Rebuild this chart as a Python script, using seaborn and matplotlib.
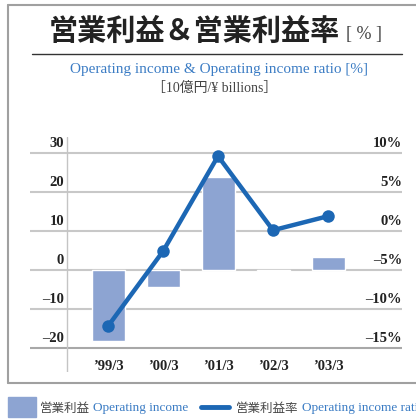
import numpy as np
import matplotlib
matplotlib.use("Agg")
import matplotlib.pyplot as plt
from matplotlib.lines import Line2D
from matplotlib.patches import Rectangle
import seaborn as sns

# data
periods = ["’99/3", "’00/3", "’01/3", "’02/3", "’03/3"]
income = [-18.2, -4.4, 23.8, -0.2, 3.3]          # 10億円 / ¥ billions
ratio = [-12.2, -2.6, 9.6, 0.1, 1.9]             # %
left_ticks = [30, 20, 10, 0, -10, -20]
left_labels = ["30", "20", "10", "0", "–10", "–20"]
right_labels = ["10%", "5%", "0%", "–5%", "–10%", "–15%"]

BAR = "#8da4d2"
LINE = "#1c67b4"
BLUE_TXT = "#3b7cc4"
GRID = "#c8c8c8"

sns.set_theme(style="white")
plt.rcParams["font.family"] = ["Liberation Serif", "Noto Sans CJK JP"]

W, H = 416, 419
fig = plt.figure(figsize=(W / 100, H / 100), dpi=100)


def fx(px):
    return px / W


def fy(py):
    return 1 - py / H


# main axes spans gridline area
ax = fig.add_axes([fx(30), fy(372), fx(402) - fx(30), fy(137) - fy(372)])
sns.barplot(x=periods, y=income, ax=ax, color=BAR, saturation=1, width=0.6)

y0 = 270.0
scale = 3.9
ylim = ((y0 - 372) / scale, (y0 - 137) / scale)
xlim = ((30 - 108) / 55, (402 - 108) / 55)
ax.set_ylim(*ylim)
ax.set_xlim(*xlim)

for t in left_ticks:
    ax.axhline(t, color="#a8a8a8" if t == -20 else GRID, lw=1.5, zorder=0)
ax.axvline((67 - 108) / 55, color="#c4c4c4", lw=1, zorder=0)

ax2 = ax.twinx()
sns.lineplot(x=np.arange(len(ratio)), y=ratio, ax=ax2, color=LINE, lw=3.2,
             marker="o", markersize=9, markeredgewidth=0, zorder=5)
ax2.set_ylim(ylim[0] / 2 - 5, ylim[1] / 2 - 5)
ax2.set_xlim(*xlim)

for a in (ax, ax2):
    a.set_xticks([])
    a.set_yticks([])
    a.set_xlabel("")
    a.set_ylabel("")
    for s in a.spines.values():
        s.set_visible(False)

for t, lab, rlab in zip(left_ticks, left_labels, right_labels):
    ax.text((64 - 108) / 55, t + 0.8, lab, ha="right", va="bottom",
            fontsize=10.5, fontweight="bold", color="#222")
    ax.text(xlim[1], t + 0.8, rlab, ha="right", va="bottom",
            fontsize=10.5, fontweight="bold", color="#222")

xlab_y = (y0 - 366) / scale
for i, p in enumerate(periods):
    ax.text(i, xlab_y, p, ha="center", va="center", fontsize=10.5,
            fontweight="bold", color="#222")

# titles
fig.text(fx(194), fy(31), "営業利益＆営業利益率", ha="center", va="center",
         fontsize=21, fontweight="bold", color="#222",
         family=["Noto Sans CJK JP"])
fig.text(fx(346), fy(35), "[ % ]", ha="left", va="center", fontsize=13,
         color="#444")
fig.add_artist(Line2D([fx(32), fx(402)], [fy(54), fy(54)], color="#333", lw=1))
fig.text(fx(219), fy(70), "Operating income & Operating income ratio [%]",
         ha="center", va="center", fontsize=11, color=BLUE_TXT)
fig.text(fx(215), fy(88), "［10億円/¥ billions］", ha="center", va="center",
         fontsize=10, color="#444",
         family=["Liberation Serif", "Noto Sans CJK JP"])

# outer frame
frame_c = "#a0a0a0"
fig.add_artist(Line2D([fx(8), fx(8)], [fy(5), fy(383)], color=frame_c, lw=1.5))
fig.add_artist(Line2D([fx(8), 1], [fy(5), fy(5)], color=frame_c, lw=1.5))
fig.add_artist(Line2D([fx(8), 1], [fy(383), fy(383)], color=frame_c, lw=1.5))

# legend
fig.add_artist(Rectangle((fx(8), fy(417)), fx(36) - fx(8), fy(397) - fy(417),
                         color=BAR, transform=fig.transFigure))
fig.text(fx(40), fy(408), "営業利益", ha="left", va="center", fontsize=9,
         color="#444", family=["Noto Sans CJK JP"])
fig.text(fx(93), fy(408), "Operating income", ha="left", va="center",
         fontsize=9.5, color=BLUE_TXT)
fig.add_artist(Line2D([fx(201), fx(229)], [fy(407), fy(407)], color=LINE,
                      lw=3.5, solid_capstyle="round"))
fig.text(fx(236), fy(408), "営業利益率", ha="left", va="center", fontsize=9,
         color="#444", family=["Noto Sans CJK JP"])
fig.text(fx(302), fy(408), "Operating income ratio", ha="left", va="center",
         fontsize=9.5, color=BLUE_TXT)

fig.savefig("out.png", dpi=100)
